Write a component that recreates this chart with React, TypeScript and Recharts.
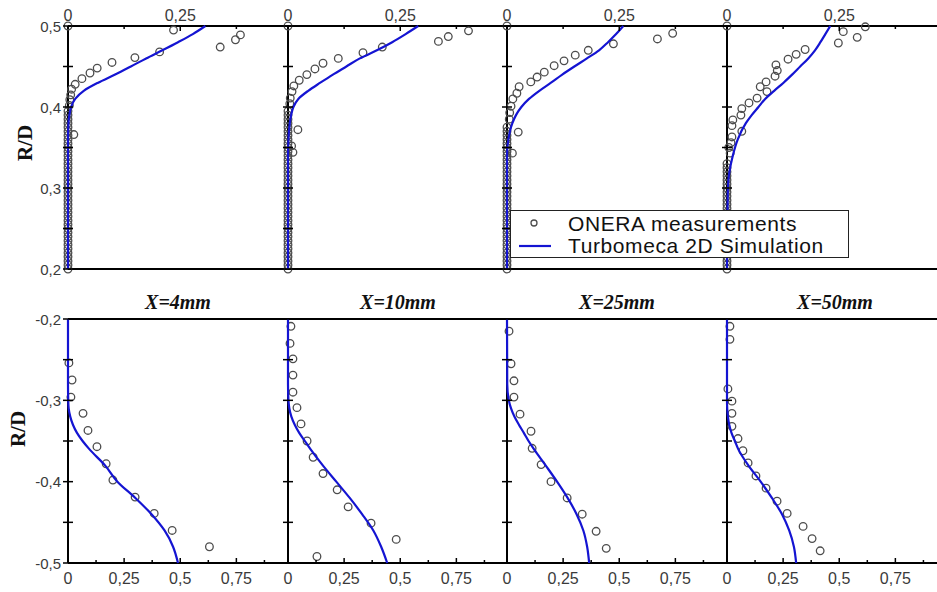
import React from "react";
import { ScatterChart, Scatter, XAxis, YAxis, ReferenceLine, Legend } from "recharts";

const stations = ["X=4mm", "X=10mm", "X=25mm", "X=50mm"];

// R/D stations of the simulated profiles
const upperSimR = [0.2, 0.3, 0.34, 0.36, 0.38, 0.39, 0.4, 0.41, 0.42, 0.43, 0.44, 0.45, 0.46, 0.47, 0.48, 0.49, 0.5];
const lowerSimR = [-0.2, -0.28, -0.3, -0.31, -0.32, -0.33, -0.34, -0.35, -0.36, -0.38, -0.4, -0.42, -0.44, -0.46, -0.48, -0.5];

const sim4Upper = [0, 0, 0, 0, 0.001, 0.003, 0.007, 0.016, 0.035, 0.067, 0.105, 0.14, 0.174, 0.21, 0.245, 0.278, 0.306];
const sim10Upper = [0, 0, 0, 0.001, 0.004, 0.007, 0.012, 0.023, 0.045, 0.072, 0.1, 0.13, 0.16, 0.198, 0.232, 0.262, 0.29];
const sim25Upper = [0, 0, 0, 0.003, 0.012, 0.02, 0.032, 0.049, 0.072, 0.098, 0.123, 0.15, 0.178, 0.205, 0.225, 0.243, 0.259];
const sim50Upper = [0, 0.002, 0.013, 0.024, 0.042, 0.055, 0.07, 0.085, 0.105, 0.126, 0.145, 0.163, 0.181, 0.196, 0.208, 0.219, 0.23];

const sim4Lower = [0, 0, 0.001, 0.003, 0.01, 0.022, 0.04, 0.065, 0.095, 0.165, 0.22, 0.3, 0.372, 0.43, 0.468, 0.49];
const sim10Lower = [0, 0, 0.002, 0.006, 0.015, 0.03, 0.05, 0.075, 0.1, 0.155, 0.215, 0.275, 0.33, 0.38, 0.415, 0.442];
const sim25Lower = [0, 0.001, 0.008, 0.018, 0.033, 0.053, 0.075, 0.096, 0.12, 0.172, 0.223, 0.27, 0.31, 0.34, 0.357, 0.366];
const sim50Lower = [0, 0, 0, 0.001, 0.004, 0.01, 0.02, 0.035, 0.05, 0.095, 0.15, 0.2, 0.245, 0.277, 0.298, 0.308];

// near-wall measurement stations (upper profiles), value ~0
const wallR = [
  0.2, 0.205, 0.21, 0.215, 0.22, 0.225, 0.23, 0.235, 0.24, 0.245, 0.25, 0.255, 0.26, 0.265, 0.27, 0.275, 0.28, 0.285, 0.29, 0.295,
  0.3, 0.305, 0.31, 0.315, 0.32, 0.325, 0.33, 0.335, 0.34, 0.345, 0.35, 0.355, 0.36, 0.365, 0.37, 0.375, 0.38, 0.385, 0.39, 0.395,
];
const wallTop = [0.4, 0.4, 0.38, 0.335];

// [value, R/D]
const meas4Upper: [number, number][] = [
  [0, 0.5], [0.235, 0.495], [0.339, 0.474], [0.373, 0.483], [0.384, 0.489], [0.204, 0.468], [0.149, 0.461], [0.098, 0.455],
  [0.065, 0.448], [0.049, 0.442], [0.031, 0.435], [0.016, 0.428], [0.008, 0.422], [0.006, 0.415], [0.004, 0.409], [0.003, 0.402],
  [0.013, 0.366],
];
const meas10Upper: [number, number][] = [
  [0, 0.5], [0.402, 0.494], [0.357, 0.487], [0.335, 0.481], [0.21, 0.474], [0.167, 0.467], [0.112, 0.46], [0.078, 0.454],
  [0.06, 0.447], [0.042, 0.44], [0.025, 0.433], [0.013, 0.426], [0.009, 0.419], [0.005, 0.411], [0.004, 0.404], [0.022, 0.372],
  [0.011, 0.344], [0.008, 0.352],
];
const meas25Upper: [number, number][] = [
  [0, 0.5], [0.369, 0.491], [0.335, 0.484], [0.237, 0.478], [0.181, 0.47], [0.152, 0.464], [0.127, 0.457], [0.105, 0.451],
  [0.083, 0.443], [0.067, 0.437], [0.053, 0.431], [0.027, 0.425], [0.022, 0.417], [0.013, 0.41], [0.009, 0.401], [0.006, 0.393],
  [0.005, 0.385], [0.025, 0.369], [0.012, 0.343],
];
const meas50Upper: [number, number][] = [
  [0, 0.5], [0.308, 0.499], [0.259, 0.493], [0.29, 0.486], [0.248, 0.479], [0.174, 0.471], [0.154, 0.465], [0.136, 0.459],
  [0.109, 0.452], [0.112, 0.445], [0.107, 0.438], [0.087, 0.431], [0.074, 0.425], [0.089, 0.419], [0.067, 0.411], [0.049, 0.405],
  [0.033, 0.398], [0.031, 0.39], [0.013, 0.384], [0.011, 0.377], [0.033, 0.37], [0.011, 0.363], [0.009, 0.356], [0.004, 0.35],
  [0.007, 0.343],
];

const meas4Lower: [number, number][] = [
  [0.004, -0.254], [0.018, -0.275], [0.013, -0.296], [0.067, -0.316], [0.089, -0.337], [0.129, -0.357], [0.17, -0.378],
  [0.2, -0.398], [0.299, -0.419], [0.384, -0.439], [0.464, -0.46], [0.63, -0.48],
];
const meas10Lower: [number, number][] = [
  [0.013, -0.209], [0.009, -0.23], [0.022, -0.249], [0.022, -0.269], [0.022, -0.29], [0.04, -0.309], [0.058, -0.329],
  [0.085, -0.35], [0.112, -0.37], [0.156, -0.39], [0.219, -0.41], [0.268, -0.431], [0.37, -0.451], [0.482, -0.471],
  [0.129, -0.492],
];
const meas25Lower: [number, number][] = [
  [0.009, -0.215], [0.018, -0.255], [0.031, -0.276], [0.031, -0.296], [0.058, -0.317], [0.107, -0.338], [0.112, -0.359],
  [0.152, -0.379], [0.196, -0.4], [0.268, -0.42], [0.335, -0.44], [0.397, -0.461], [0.442, -0.482],
];
const meas50Lower: [number, number][] = [
  [0.013, -0.209], [0.013, -0.225], [0.004, -0.286], [0.022, -0.301], [0.022, -0.316], [0.022, -0.332], [0.049, -0.347],
  [0.071, -0.362], [0.094, -0.377], [0.129, -0.393], [0.174, -0.408], [0.223, -0.424], [0.268, -0.439], [0.339, -0.455],
  [0.379, -0.47], [0.415, -0.485],
];

const upperXTicks = [0, 0.125, 0.25, 0.375];
const upperXLabels = [0, 0.25];
const lowerXTicks = [0, 0.125, 0.25, 0.375, 0.5, 0.625, 0.75, 0.875];
const lowerXLabels = [0, 0.25, 0.5, 0.75];
const upperYTicks = [0.2, 0.25, 0.3, 0.35, 0.4, 0.45, 0.5];
const upperYLabels = [0.2, 0.3, 0.4, 0.5];
const lowerYTicks = [-0.5, -0.45, -0.4, -0.35, -0.3, -0.25, -0.2];
const lowerYLabels = [-0.5, -0.4, -0.3, -0.2];

const BLUE = "#1414d2";
const RING = "#4d4d4d";
const Y_W = 68;
const PLOT_W = 220;
const panelLeft = [68, 288, 507, 727];
const TICK_FONT = "'Liberation Sans', Arial, sans-serif";

const pairsToPoints = (pairs: [number, number][]) => pairs.map(([v, r]) => ({ v, r }));
const simToPoints = (rs: number[], vs: number[]) => rs.map((r, i) => ({ v: vs[i], r }));

const upperSim = [sim4Upper, sim10Upper, sim25Upper, sim50Upper];
const lowerSim = [sim4Lower, sim10Lower, sim25Lower, sim50Lower];
const upperMeas = [meas4Upper, meas10Upper, meas25Upper, meas50Upper];
const lowerMeas = [meas4Lower, meas10Lower, meas25Lower, meas50Lower];

const fmt = (v: number) => String(Number(v.toFixed(3))).replace(".", ",");

const rows = {
  upper: {
    chartTop: 0,
    height: 277,
    margin: { top: 2, right: 8, bottom: 8, left: 0 },
    xH: 24,
    xOrient: "top" as const,
    xDomain: [0, 0.49],
    xTicks: upperXTicks,
    xLabels: upperXLabels,
    yDomain: [0.2, 0.5],
    yTicks: upperYTicks,
    yLabels: upperYLabels,
    frameY: 0.2,
  },
  lower: {
    chartTop: 303,
    height: 289,
    margin: { top: 16, right: 8, bottom: 0, left: 0 },
    xH: 29,
    xOrient: "bottom" as const,
    xDomain: [0, 0.98],
    xTicks: lowerXTicks,
    xLabels: lowerXLabels,
    yDomain: [-0.5, -0.2],
    yTicks: lowerYTicks,
    yLabels: lowerYLabels,
    frameY: -0.2,
  },
};

const Ring = (p: any) => <circle cx={p.cx} cy={p.cy} r={3.8} fill="none" stroke={RING} strokeWidth={1.3} />;
const NoMark = () => <g />;

const YTick = ({ x, y, payload, showLabel, labels }: any) => {
  const ax = x + 6;
  const major = labels.includes(payload.value);
  return (
    <g>
      <line x1={ax - 5} x2={ax + 5} y1={y} y2={y} stroke="#000" strokeWidth={1.5} />
      {showLabel && major && (
        <text x={x - 1} y={y} textAnchor="end" dominantBaseline="central" fontFamily={TICK_FONT} fontSize={15} fill="#3a3a3a">
          {fmt(payload.value)}
        </text>
      )}
    </g>
  );
};

const XTick = ({ x, y, payload, orient, labels }: any) => {
  const major = labels.includes(payload.value);
  const len = major ? 5 : 3;
  if (orient === "top") {
    const ay = y + 5;
    return (
      <g>
        {payload.value !== 0 && <line x1={x} x2={x} y1={ay} y2={ay + len} stroke="#000" strokeWidth={1.5} />}
        {major && (
          <text x={x} y={ay - 5} textAnchor="middle" fontFamily={TICK_FONT} fontSize={16} fill="#3a3a3a">
            {fmt(payload.value)}
          </text>
        )}
      </g>
    );
  }
  const ay = y - 5;
  return (
    <g>
      {payload.value !== 0 && <line x1={x} x2={x} y1={ay} y2={ay - len} stroke="#000" strokeWidth={1.5} />}
      {major && (
        <text x={x} y={ay + 15} textAnchor="middle" dominantBaseline="central" fontFamily={TICK_FONT} fontSize={16} fill="#3a3a3a">
          {fmt(payload.value)}
        </text>
      )}
    </g>
  );
};

const LegendBox = ({ payload }: any) => (
  <div
    style={{
      width: 339,
      height: 48,
      boxSizing: "border-box",
      border: "1.5px solid #222",
      background: "#fff",
      paddingTop: 2,
      fontFamily: TICK_FONT,
      fontSize: 21,
      letterSpacing: 0.6,
      color: "#111",
    }}
  >
    {(payload || []).map((entry: any) => (
      <div key={entry.value} style={{ display: "flex", alignItems: "center", height: 22 }}>
        <svg width={57} height={22} style={{ flex: "none" }}>
          {entry.type === "line" ? (
            <line x1={8} x2={40} y1={11} y2={11} stroke={BLUE} strokeWidth={2.2} />
          ) : (
            <circle cx={23} cy={10} r={3} fill="none" stroke={RING} strokeWidth={1.3} />
          )}
        </svg>
        <span style={{ lineHeight: "22px", whiteSpace: "nowrap" }}>{entry.value}</span>
      </div>
    ))}
  </div>
);

const Panel = ({ row, col }: { row: "upper" | "lower"; col: number }) => {
  const cfg = rows[row];
  const left = panelLeft[col] - Y_W;
  const sim = row === "upper" ? simToPoints(upperSimR, upperSim[col]) : simToPoints(lowerSimR, lowerSim[col]);
  const meas =
    row === "upper"
      ? [...wallR.filter((r) => r < wallTop[col]).map((r) => ({ v: 0, r })), ...pairsToPoints(upperMeas[col])]
      : pairsToPoints(lowerMeas[col]);
  const withLegend = row === "upper" && col === 2;
  return (
    <div style={{ position: "absolute", left, top: cfg.chartTop, zIndex: withLegend ? 3 : 1 }}>
      <ScatterChart width={Y_W + PLOT_W + 8} height={cfg.height} margin={cfg.margin}>
        <XAxis
          type="number"
          dataKey="v"
          orientation={cfg.xOrient}
          domain={cfg.xDomain}
          ticks={cfg.xTicks}
          interval={0}
          height={cfg.xH}
          tickSize={0}
          tickMargin={5}
          tickLine={false}
          axisLine={{ stroke: "#000", strokeWidth: 2 }}
          tick={(p: any) => <XTick {...p} orient={cfg.xOrient} labels={cfg.xLabels} />}
        />
        <YAxis
          type="number"
          dataKey="r"
          domain={cfg.yDomain}
          ticks={cfg.yTicks}
          interval={0}
          width={Y_W}
          tickSize={0}
          tickMargin={6}
          tickLine={false}
          axisLine={{ stroke: "#000", strokeWidth: 2 }}
          tick={(p: any) => <YTick {...p} showLabel={col === 0} labels={cfg.yLabels} />}
        />
        <ReferenceLine y={cfg.frameY} stroke="#000" strokeWidth={2} />
        <Scatter
          name="ONERA measurements"
          data={meas}
          fill={RING}
          shape={Ring}
          legendType="circle"
          isAnimationActive={false}
        />
        <Scatter
          name="Turbomeca 2D Simulation"
          data={sim}
          fill={BLUE}
          line={{ stroke: BLUE, strokeWidth: 2.2 }}
          lineJointType="monotoneY"
          shape={NoMark}
          legendType="line"
          isAnimationActive={false}
        />
        {withLegend && (
          <Legend
            layout="horizontal"
            verticalAlign="middle"
            content={<LegendBox />}
            wrapperStyle={{ position: "absolute", left: 510 - left, top: 210, width: 339, height: 48 }}
          />
        )}
      </ScatterChart>
    </div>
  );
};

const titleX = [178, 398, 617, 835];

export default function App() {
  return (
    <div style={{ position: "absolute", left: 0, top: 0, width: 937, height: 592, overflow: "hidden", background: "#fff" }}>
      {[0, 1, 2, 3].map((c) => (
        <Panel key={`u${c}`} row="upper" col={c} />
      ))}
      {[0, 1, 2, 3].map((c) => (
        <Panel key={`l${c}`} row="lower" col={c} />
      ))}
      {stations.map((s, i) => (
        <div
          key={s}
          style={{
            position: "absolute",
            left: titleX[i],
            top: 302,
            transform: "translate(-50%, -50%)",
            fontFamily: "'Liberation Serif', 'Times New Roman', serif",
            fontWeight: "bold",
            fontStyle: "italic",
            fontSize: 20,
            whiteSpace: "nowrap",
            color: "#111",
            zIndex: 5,
          }}
        >
          {s}
        </div>
      ))}
      {[
        { x: 25, y: 143 },
        { x: 18, y: 429 },
      ].map((p, i) => (
        <div
          key={i}
          style={{
            position: "absolute",
            left: p.x,
            top: p.y,
            transform: "translate(-50%, -50%) rotate(-90deg)",
            fontFamily: "'Liberation Serif', 'Times New Roman', serif",
            fontWeight: "bold",
            fontSize: 21,
            whiteSpace: "nowrap",
            color: "#111",
            zIndex: 5,
          }}
        >
          R/D
        </div>
      ))}
    </div>
  );
}
